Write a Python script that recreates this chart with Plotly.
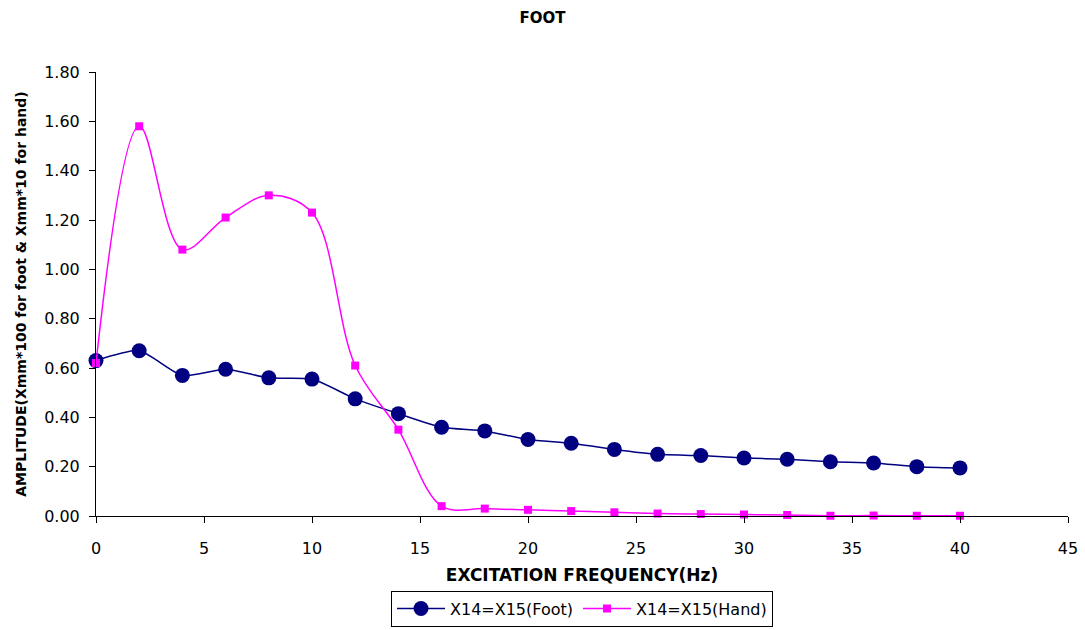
import plotly.graph_objects as go

freq = [0, 2, 4, 6, 8, 10, 12, 14, 16, 18, 20, 22, 24, 26, 28, 30, 32, 34, 36, 38, 40]
foot = [0.63, 0.67, 0.57, 0.595, 0.56, 0.555, 0.475, 0.415, 0.36, 0.345, 0.31, 0.295,
        0.27, 0.25, 0.245, 0.235, 0.23, 0.22, 0.215, 0.20, 0.195]
hand = [0.62, 1.58, 1.08, 1.21, 1.30, 1.23, 0.61, 0.35, 0.04, 0.03, 0.025, 0.02,
        0.015, 0.01, 0.008, 0.006, 0.004, 0.001, 0.002, 0.001, 0.001]

x_ticks = [0, 5, 10, 15, 20, 25, 30, 35, 40, 45]
y_ticks = [0, 0.2, 0.4, 0.6, 0.8, 1.0, 1.2, 1.4, 1.6, 1.8]

FONT = "DejaVu Sans, Arial, sans-serif"

fig = go.Figure()
fig.add_trace(go.Scatter(
    x=freq, y=foot, name="X14=X15(Foot)", mode="lines+markers",
    line=dict(color="#000080", width=1.5, shape="spline", smoothing=0.6),
    marker=dict(symbol="circle", size=15, color="#000080"),
    cliponaxis=False))
fig.add_trace(go.Scatter(
    x=freq, y=hand, name="X14=X15(Hand)", mode="lines+markers",
    line=dict(color="#FF00FF", width=1.5, shape="spline", smoothing=1.0),
    marker=dict(symbol="square", size=8, color="#FF00FF"),
    cliponaxis=False))

fig.update_layout(
    width=1085, height=630,
    margin=dict(l=96, r=17, t=72, b=114, autoexpand=False),
    paper_bgcolor="white", plot_bgcolor="white",
    font=dict(family=FONT, color="black", size=16),
    title=dict(text="<b>FOOT</b>", x=0.5, xanchor="center", y=0.972, yanchor="middle",
               font=dict(size=15)),
    xaxis=dict(range=[0, 45], tickvals=x_ticks,
               showline=True, linecolor="black", linewidth=1,
               ticks="outside", ticklen=6, tickcolor="black",
               ticklabelstandoff=12,
               showgrid=False, zeroline=False,
               title=dict(text="<b>EXCITATION FREQUENCY(Hz)</b>", font=dict(size=17), standoff=11)),
    yaxis=dict(range=[0, 1.8], tickvals=y_ticks,
               tickformat=".2f",
               showline=True, linecolor="black", linewidth=1,
               ticks="outside", ticklen=6, tickcolor="black",
               ticklabelstandoff=6,
               showgrid=False, zeroline=False,
               title=dict(text="<b>AMPLITUDE(Xmm*100 for foot & Xmm*10 for hand)</b>",
                          font=dict(size=14), standoff=14)),
    legend=dict(orientation="h", x=0.5, xanchor="center", y=-0.168, yanchor="top",
                bordercolor="black", borderwidth=1, font=dict(size=16),
                itemwidth=48, tracegroupgap=0),
    showlegend=True,
)

fig.write_html("out.html")
